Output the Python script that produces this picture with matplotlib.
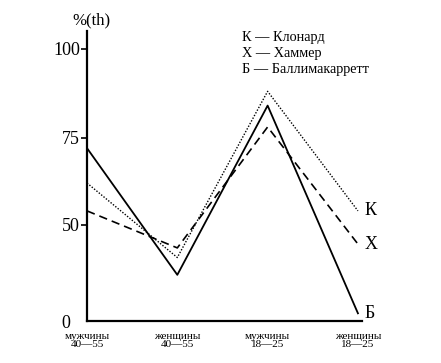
import numpy as np
import matplotlib
matplotlib.use("Agg")
import matplotlib.pyplot as plt
import matplotlib.transforms as mtransforms

plt.rcParams['font.family'] = ['Liberation Serif', 'DejaVu Serif']

categories = ["мужчины\n40—55", "женщины\n40—55", "мужчины\n18—25", "женщины\n18—25"]
klonard = [62, 33, 88, 54]       # К (dotted)
hammer = [54, 38, 78, 40]        # Х (dashed)
ballymac = [72, 24, 84, 4]       # Б (solid)
series_labels = ["К", "Х", "Б"]
legend_lines = ["К — Клонард", "Х — Хаммер", "Б — Баллимакарретт"]
yticks = [0, 50, 75, 100]

# the original axis is drawn with unequal spacing between tick values
anchor_vals = np.array([0, 50, 75, 100, 106])
anchor_pos = np.array([0, 96, 183, 272, 293])

def fwd(v):
    return np.interp(v, anchor_vals, anchor_pos)

def inv(p):
    return np.interp(p, anchor_pos, anchor_vals)

fig = plt.figure(figsize=(4.41, 3.63), dpi=100)
ax = fig.add_axes([87/441, 42/363, 275/441, 290/363])
ax.set_yscale('function', functions=(fwd, inv))

x = np.arange(len(categories))
ax.plot(x, ballymac, color='black', lw=1.3, ls='-')
ax.plot(x, hammer, color='black', lw=1.2, ls=(0, (5, 3)))
ax.plot(x, klonard, color='black', lw=1.0, ls=(0, (1, 1.2)))

ax.set_xlim(0, 3.045)
ax.set_ylim(0, 105)

for sp in ['top', 'right']:
    ax.spines[sp].set_visible(False)
for sp in ['left', 'bottom']:
    ax.spines[sp].set_linewidth(1.6)

ax.set_yticks(yticks)
ax.set_yticklabels([str(t) for t in yticks], fontsize=13)
ax.tick_params(axis='y', length=4, width=1.2, pad=1)
# the "0" label sits further left in the original
zero_lab = ax.get_yticklabels()[0]
zero_lab.set_transform(zero_lab.get_transform() +
                       mtransforms.ScaledTranslation(-10/100, 0, fig.dpi_scale_trans))
ax.get_yticklines()[0].set_visible(False)

ax.set_xticks(x)
ax.set_xticklabels(categories, fontsize=8, linespacing=0.8)
ax.tick_params(axis='x', length=0, pad=8)

fig.text(72/441, 1 - 20/363, "%(th)", fontsize=12, va='center', ha='left')

for i, line in enumerate(legend_lines):
    fig.text(242/441, 1 - (38 + i*16)/363, line, fontsize=10.3, va='center', ha='left')

for lab, vals in zip(series_labels, [klonard, hammer, ballymac]):
    ax.annotate(lab, xy=(x[-1], vals[-1]), xytext=(5, 0), textcoords='offset points',
                fontsize=13, va='center', ha='left')

fig.savefig("out.png", dpi=100)
